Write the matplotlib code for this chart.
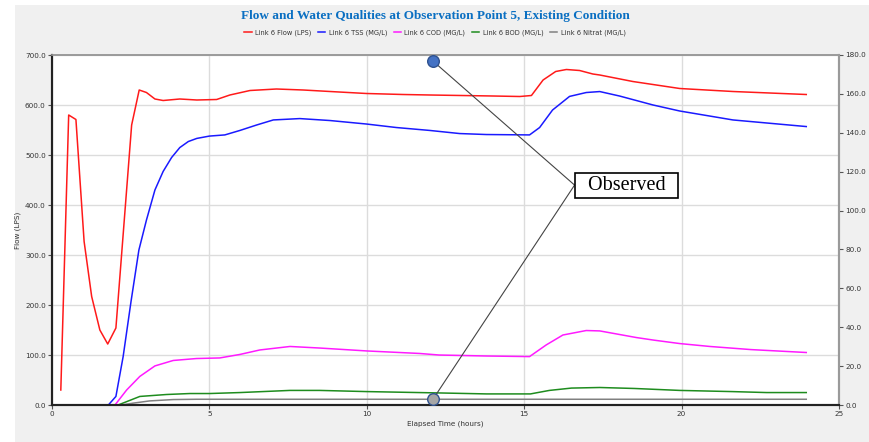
import matplotlib
matplotlib.use("Agg")
import matplotlib.pyplot as plt
from matplotlib.patches import Rectangle
from matplotlib.lines import Line2D

# Link 6 flow (LPS), left axis
t_flow = [0.28, 0.53, 0.76, 1.02, 1.26, 1.52, 1.77, 2.03, 2.53, 2.77, 3.0, 3.27,
          3.53, 4.06, 4.6, 5.23, 5.65, 6.29, 7.13, 7.98, 8.83, 9.99, 11.15, 12.0,
          13.0, 14.0, 14.86, 15.23, 15.6, 16.0, 16.34, 16.76, 17.18, 17.4, 18.45,
          19.94, 21.63, 23.96]
flow = [30, 580, 571, 327, 217, 150, 122, 154, 560, 630, 625, 612,
        609, 612, 610, 611, 620, 629, 632, 630, 627, 623, 621, 620,
        619, 618, 617, 619, 650, 667, 671, 669, 662, 660, 647,
        633, 627, 621]

# water quality (MG/L), right axis
t_tss = [1.79, 2.03, 2.26, 2.51, 2.76, 3.0, 3.27, 3.53, 3.8, 4.06, 4.33, 4.6, 5.0,
         5.49, 5.97, 6.5, 7.03, 7.87, 8.83, 9.99, 10.94, 12.0, 12.95, 13.8, 15.17,
         15.49, 15.9, 16.44, 16.97, 17.4, 18.03, 19.09, 19.94, 21.63, 23.96]
tss = [0, 4.4, 24.9, 53.2, 79.7, 95.1, 110.6, 120.1, 127.3, 132.4, 135.5, 137.1, 138.3,
       138.9, 141.2, 144.0, 146.6, 147.3, 146.3, 144.5, 142.7, 141.2, 139.6, 139.1, 138.9,
       142.7, 151.7, 158.7, 160.7, 161.2, 158.9, 154.3, 151.2, 146.6, 143.2]

t_cod = [2.0, 2.37, 2.79, 3.27, 3.85, 4.59, 5.33, 5.97, 6.6, 7.56, 8.5, 10.0, 11.68,
         12.3, 13.8, 15.17, 15.7, 16.23, 16.97, 17.4, 18.56, 19.1, 19.94, 20.9, 22.2, 23.96]
cod = [0, 7.7, 14.7, 20.1, 22.9, 23.9, 24.2, 26.0, 28.3, 30.1, 29.3, 27.8, 26.5,
       25.7, 25.2, 24.9, 30.9, 36.0, 38.3, 38.1, 34.7, 33.4, 31.6, 30.1, 28.5, 27.0]

t_bod = [2.1, 2.79, 3.64, 4.38, 5.0, 5.97, 7.56, 8.5, 10.0, 12.3, 13.8, 15.2, 15.8,
         16.5, 17.4, 18.5, 19.94, 21.6, 22.7, 23.96]
bod = [0, 4.4, 5.4, 5.9, 5.9, 6.4, 7.5, 7.5, 6.9, 6.2, 5.7, 5.7, 7.5,
       8.7, 9.0, 8.5, 7.5, 6.9, 6.4, 6.4]

t_nit = [2.2, 2.6, 3.1, 3.85, 4.6, 10.0, 23.96]
nit = [0, 1.0, 2.1, 2.8, 2.95, 2.95, 2.95]

# observed values
t_obs = 12.1
obs_tss = 176.9
obs_nit = 2.9
callout_t, callout_v = 16.6, 113.1

fig = plt.figure(figsize=(8.7, 4.42), dpi=100)
fig.patch.set_facecolor("#f0f0f0")
# white strips along the top and left edges
fig.patches.append(Rectangle((0, 0), 15 / 870, 1, transform=fig.transFigure,
                             facecolor="white", edgecolor="none", zorder=-10))
fig.patches.append(Rectangle((0, 1 - 5 / 442), 1, 5 / 442, transform=fig.transFigure,
                             facecolor="white", edgecolor="none", zorder=-10))

ax = fig.add_axes([52 / 870, 1 - 405 / 442, 787 / 870, 350 / 442])
ax2 = ax.twinx()

ax.plot(t_flow, flow, color="#ff1a1a", lw=1.1, label="Link 6 Flow (LPS)")
ax2.plot(t_tss, tss, color="#1a1aff", lw=1.1, label="Link 6 TSS (MG/L)")
ax2.plot(t_cod, cod, color="#ff1aff", lw=1.1, label="Link 6 COD (MG/L)")
ax2.plot(t_bod, bod, color="#1e8c1e", lw=1.1, label="Link 6 BOD (MG/L)")
ax2.plot(t_nit, nit, color="#808080", lw=1.1, label="Link 6 Nitrat (MG/L)")

ax.set_xlim(0, 25)
ax.set_ylim(0, 700)
ax2.set_ylim(0, 180)
ax.set_xticks([0, 5, 10, 15, 20, 25])
ax.set_yticks(range(0, 701, 100))
ax2.set_yticks(range(0, 181, 20))
ax.yaxis.set_major_formatter(matplotlib.ticker.FormatStrFormatter("%.1f"))
ax2.yaxis.set_major_formatter(matplotlib.ticker.FormatStrFormatter("%.1f"))

ax.grid(True, color="#dcdcdc", lw=1)
ax.set_axisbelow(True)
ax.set_facecolor("white")

for a in (ax, ax2):
    a.tick_params(labelsize=5.2, length=3, width=0.8, color="#555555", labelcolor="#333333", pad=1.5)
    a.spines["left"].set_color("#222222")
    a.spines["left"].set_linewidth(1.5)
    a.spines["bottom"].set_color("#222222")
    a.spines["bottom"].set_linewidth(1.5)
    a.spines["top"].set_color("#9a9a9a")
    a.spines["top"].set_linewidth(1.2)
    a.spines["right"].set_color("#9a9a9a")
    a.spines["right"].set_linewidth(1.5)

ax.set_xlabel("Elapsed Time (hours)", fontsize=5.2, color="#333333", labelpad=2)
ax.set_ylabel("Flow (LPS)", fontsize=5.2, color="#333333", labelpad=3)

fig.text(0.5, 1 - 16 / 442, "Flow and Water Qualities at Observation Point 5, Existing Condition",
         ha="center", va="center", fontsize=9.5, fontweight="bold",
         family="Liberation Serif", color="#0a6fc2")

handles = ax.get_lines() + ax2.get_lines()
handles = [Line2D([], [], color=h.get_color(), lw=1.1) for h in handles]
labels = [l.get_label() for l in ax.get_lines() + ax2.get_lines()]
fig.legend(handles, labels, loc="center", bbox_to_anchor=(0.5, 1 - 33 / 442), ncol=5,
           frameon=False, fontsize=4.8, handlelength=1.1, handletextpad=0.5,
           columnspacing=1.0, labelcolor="#333333")

# callout to the observed points
ax2.plot([t_obs, callout_t], [obs_tss, callout_v], color="#444444", lw=0.8, zorder=5)
ax2.plot([t_obs, callout_t], [obs_nit, callout_v], color="#444444", lw=0.8, zorder=5)
ax2.scatter([t_obs], [obs_tss], s=70, color="#4472c4", edgecolor="#2f528f", lw=1, zorder=6, clip_on=False)
ax2.scatter([t_obs], [obs_nit], s=70, color="#a6a6a6", edgecolor="#2f528f", lw=1, zorder=6, clip_on=False)
ax2.annotate("  Observed  ", xy=(callout_t, callout_v), xytext=(2.2, 0), textcoords="offset points",
             ha="left", va="center", fontsize=14.5, family="Liberation Serif", color="black",
             zorder=7, bbox=dict(boxstyle="square,pad=0.15", facecolor="white",
                                 edgecolor="black", lw=1.2))

fig.savefig("out.png", dpi=100)
